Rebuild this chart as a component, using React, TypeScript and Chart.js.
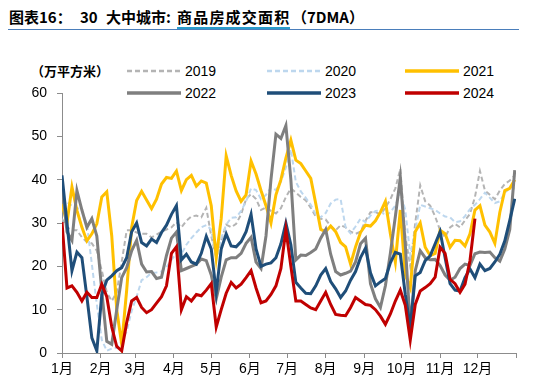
import React, { useEffect, useRef } from 'react';
import { Chart, registerables } from 'chart.js';

Chart.register(...registerables);

// Day of year (sampled every 4 days)
const days = [
  0, 4, 8, 12, 16, 20, 24, 28, 32, 36,
  40, 44, 48, 52, 56, 60, 64, 68, 72, 76,
  80, 84, 88, 92, 96, 100, 104, 108, 112, 116,
  120, 124, 128, 132, 136, 140, 144, 148, 152, 156,
  160, 164, 168, 172, 176, 180, 184, 188, 192, 196,
  200, 204, 208, 212, 216, 220, 224, 228, 232, 236,
  240, 244, 248, 252, 256, 260, 264, 268, 272, 276,
  280, 284, 288, 292, 296, 300, 304, 308, 312, 316,
  320, 324, 328, 332, 336, 340, 344, 348, 352, 356,
  360, 364,
];

const y2019 = [
  31, 29, 28.3, 28.3, 26.7, 25.6, 25.3, 23.6, 19, 14,
  12, 14, 21, 28.3, 28.3, 27.8, 27.5, 27.5, 26.7, 27.3,
  28, 28.5, 29, 30.2, 29, 30.5, 31.5, 31.7, 31.3, 33.5,
  27, 22, 26, 29.6, 29, 29.8, 32, 35.5, 36.7, 35.5,
  33, 33.6, 32.8, 32.2, 33.4, 36, 38, 37, 36, 35.2,
  33.5, 31.5, 31, 30.8, 29.3, 28.3, 29.5, 29, 28, 27.5,
  28, 30.5, 32.5, 32.5, 32, 33.5, 35.5, 38, 42.5, 27,
  20, 30, 38.7, 35, 34, 31.5, 28.3, 26.7, 29, 29.8,
  29, 30.6, 32.1, 36, 42, 37.5, 36.5, 35.5, 37.5, 39,
  39.8, 41,
];

const y2020 = [
  36, 34.8, 34, 33.5, 32.9, 29.8, 20.5, 11.2, 3, 0.5,
  1, 1.2, 2.7, 5, 9.7, 13, 16.8, 17.5, 18.5, 18.6,
  18.8, 19.8, 21.5, 23, 22.8, 25, 26.5, 27.8, 29, 29.5,
  28.5, 21.5, 26.5, 29.6, 31.2, 31.3, 32.8, 35, 38, 37.6,
  35.5, 36.5, 38.2, 37.6, 39.5, 42.8, 47, 39.5, 37.3, 35.8,
  34.2, 32, 31.3, 32.3, 34.5, 35.4, 35.5, 29, 27.6, 29.2,
  31, 30.2, 31.7, 32.8, 32.9, 31.6, 32.5, 34, 37, 33,
  22.5, 28.3, 34.2, 33.8, 33.4, 33, 32.2, 31.5, 31.3, 30.2,
  30.4, 31.6, 33.2, 34.2, 35.5, 37, 35.8, 34.6, 35, 37,
  38, 38,
];

const y2021 = [
  34.4, 30, 38.3, 32.9, 29, 25.9, 27.5, 29.8, 36, 37.2,
  27, 10, 2, 14.5, 29, 35.2, 37.3, 35.3, 33.3, 35.5,
  39, 40.5, 40.3, 42, 37.5, 40, 41, 38.5, 39.7, 39.2,
  34, 22, 31, 45.5, 41, 37.4, 35, 36.5, 44.3, 41.3,
  37.5, 34, 30, 36.5, 40, 45, 49.1, 44.5, 43.7, 42,
  40.3, 34.5, 28.5, 28, 29.3, 28, 25.5, 24.5, 20.5, 24.5,
  27.8, 29.5, 29.3, 30.5, 32.5, 35, 27.5, 21, 33, 18,
  15, 28, 30, 24.4, 22.5, 23, 28.3, 27.5, 24.4, 26,
  25.9, 24.7, 27.5, 33, 34, 29.5, 27.9, 25.3, 32.5, 37.5,
  38, 40,
];

const y2022 = [
  39, 28, 26, 37.5, 33, 29, 31, 27, 14.3, 2.7,
  2, 10, 17.4, 19.7, 23.6, 26, 20.5, 18.7, 18.8, 17.2,
  17.5, 22.5, 26.5, 27.9, 19, 19.5, 20, 20.5, 21.7, 21.3,
  18, 12.5, 17.5, 21.5, 22, 22, 23, 25.3, 26.7, 21,
  19.5, 27, 40, 50.5, 49.5, 52.5, 40, 21.5, 22.6, 22.5,
  23.2, 24, 26.5, 28.5, 22.8, 18.8, 18, 18.4, 18.9, 21,
  25.2, 26.5, 16, 12.5, 10.5, 15.5, 23, 31.5, 40.5, 25,
  6, 19, 23.6, 22, 21.5, 21.6, 20.2, 18, 16.8, 17.5,
  19.5, 20.5, 20.2, 22.9, 23.3, 23.2, 23.3, 22, 21.2, 24,
  28.5, 42.2,
];

const y2023 = [
  41, 30, 19, 23.3, 22, 13, 3.5, 0.5, 13.5, 16.8,
  17.8, 19, 19.7, 22, 28, 30, 25.5, 24.7, 26.3, 25.5,
  27.8, 29.5, 32, 34, 21.5, 22.8, 21, 20.5, 23, 26.9,
  24, 14, 24, 27.5, 24.7, 24.5, 25.7, 28, 32, 24,
  20, 20.5, 20.8, 22, 25.2, 30, 25, 16.3, 15, 13.8,
  13.7, 15.5, 18, 19.5, 16.5, 14.8, 12.8, 14.3, 16.8, 18.8,
  22, 24.2, 18.5, 15.5, 16.4, 17.2, 20.8, 23.2, 22.8, 13.5,
  6, 17.8, 18.6, 21.3, 22.4, 25.2, 28, 22, 16, 14.5,
  14.3, 17.4, 19.4, 17.4, 20.5, 19, 19.5, 21, 22.8, 25.9,
  30.6, 35.6,
];

const y2024 = [
  30.2, 15, 15.5, 14, 12, 14, 12.8, 12.8, 15.9, 13,
  6, 1.5, 0.5, 7, 12, 12.8, 10.5, 9.3, 10, 11.5,
  13, 15.5, 23, 24.5, 10, 13, 12, 13.5, 13.2, 14.5,
  16, 6, 10, 13.8, 16.3, 15, 15.9, 17.4, 19, 15,
  11.6, 12, 13.5, 15.5, 19.5, 28.5, 20, 12, 12, 11.2,
  10.4, 10, 12, 14, 11.2, 8.9, 8.7, 8.6, 10.5, 12.8,
  12, 11.2, 11, 10, 8.5, 6.6, 9, 12, 14.5, 11,
  3, 11.2, 14.3, 15.1, 16, 17.5, 24.4, 23, 17, 16,
  14, 15.9, 21.3, 31, null, null, null, null, null, null,
  null, null,
];

const monthStarts = [0, 31, 59, 90, 120, 151, 181, 212, 243, 273, 304, 334, 365];
const monthLabels = ['1月', '2月', '3月', '4月', '5月', '6月', '7月', '8月', '9月', '10月', '11月', '12月', ''];

const seriesNames = ['2019', '2020', '2021', '2022', '2023', '2024'];
const seriesValues = [y2019, y2020, y2021, y2022, y2023, y2024];
const seriesColors = ['#B4B4B4', '#BDD7EE', '#FFC000', '#7F7F7F', '#1F4E79', '#C00000'];
const seriesWidths = [2, 2, 3, 3, 3, 3];
const seriesDash: number[][] = [[5, 3], [5, 3], [], [], [], []];

const FONT = "'Liberation Sans', Arial, 'Noto Sans CJK SC', sans-serif";
const CJK = "'Noto Sans CJK SC', sans-serif";
const AXIS = '#8C8C8C';

function LegendItem({ x, y, i }: { x: number; y: number; i: number }) {
  return (
    <div style={{ position: 'absolute', left: x, top: y - 9, height: 18, display: 'flex', alignItems: 'center' }}>
      <svg width={54} height={6} style={{ display: 'block' }}>
        <line x1={0} y1={3} x2={54} y2={3} stroke={seriesColors[i]} strokeWidth={seriesWidths[i] + 0.5}
          strokeDasharray={seriesDash[i].length ? seriesDash[i].join(',') : undefined} />
      </svg>
      <span style={{ marginLeft: 4, fontFamily: FONT, fontSize: 14, color: '#000', lineHeight: '18px' }}>{seriesNames[i]}</span>
    </div>
  );
}

function TitlePart({ x, text, spacing = 0 }: { x: number; text: string; spacing?: number }) {
  return (
    <span style={{ position: 'absolute', left: x, top: 7, fontFamily: CJK, fontWeight: 'bold', fontSize: 15, lineHeight: '20px', color: '#000', whiteSpace: 'pre', letterSpacing: spacing }}>
      {text}
    </span>
  );
}

export default function App() {
  const ref = useRef<HTMLCanvasElement | null>(null);

  useEffect(() => {
    if (!ref.current) return;
    const chart = new Chart(ref.current, {
      type: 'line',
      data: {
        datasets: seriesNames.map((name, i) => ({
          label: name,
          data: days.map((d, k) => ({ x: d, y: seriesValues[i][k] })),
          borderColor: seriesColors[i],
          backgroundColor: seriesColors[i],
          borderWidth: seriesWidths[i],
          borderDash: seriesDash[i],
          pointRadius: 0,
          tension: 0,
          fill: false,
          spanGaps: false,
          order: 6 - i,
        })),
      },
      options: {
        animation: false,
        responsive: false,
        events: [],
        layout: { padding: { left: 0, right: 34, top: 93, bottom: 0 } },
        plugins: { legend: { display: false }, tooltip: { enabled: false } },
        scales: {
          x: {
            type: 'linear',
            min: 0,
            max: 365,
            afterBuildTicks: (s: any) => {
              s.ticks = monthStarts.map((v) => ({ value: v }));
            },
            afterFit: (s: any) => {
              s.height = 33;
            },
            ticks: {
              autoSkip: false,
              maxRotation: 0,
              padding: 3,
              color: '#000',
              font: { family: FONT, size: 14 },
              callback: (v: any) => {
                const idx = monthStarts.indexOf(Number(v));
                return idx >= 0 ? monthLabels[idx] : '';
              },
            },
            grid: { drawOnChartArea: false, drawTicks: true, tickLength: 5, color: AXIS },
            border: { display: true, color: AXIS, width: 1 },
          },
          y: {
            min: 0,
            max: 60,
            afterFit: (s: any) => {
              s.width = 62;
            },
            ticks: {
              stepSize: 10,
              padding: 10,
              color: '#000',
              font: { family: FONT, size: 14 },
            },
            grid: { drawOnChartArea: false, drawTicks: true, tickLength: 5, color: AXIS },
            border: { display: true, color: AXIS, width: 1 },
          },
        },
      },
    } as any);
    return () => chart.destroy();
  }, []);

  return (
    <div style={{ position: 'absolute', left: 0, top: 0, width: 550, height: 386, background: '#fff', overflow: 'hidden' }}>
      <TitlePart x={9} text="图表16：" />
      <TitlePart x={80} text="30" />
      <TitlePart x={106} text="大中城市:" />
      <TitlePart x={177} text="商品房成交面积" spacing={1.2} />
      <TitlePart x={292} text="（7DMA）" />
      <div style={{ position: 'absolute', left: 177, top: 27, width: 113, height: 2, background: '#2A9CCB' }} />
      <div style={{ position: 'absolute', left: 8, top: 29, width: 511, height: 1, background: '#4A7EBB' }} />
      <div style={{ position: 'absolute', left: 31, top: 62, fontFamily: CJK, fontWeight: 'bold', fontSize: 13, lineHeight: '18px', color: '#000' }}>（万平方米）</div>
      <LegendItem x={127} y={71} i={0} />
      <LegendItem x={267} y={71} i={1} />
      <LegendItem x={405} y={71} i={2} />
      <LegendItem x={127} y={93} i={3} />
      <LegendItem x={267} y={93} i={4} />
      <LegendItem x={405} y={93} i={5} />
      <canvas ref={ref} width={550} height={386} style={{ position: 'absolute', left: 0, top: 0, width: 550, height: 386 }} />
    </div>
  );
}
